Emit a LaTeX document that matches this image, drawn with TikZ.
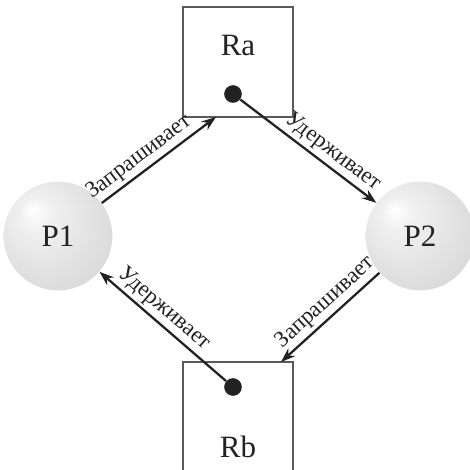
\documentclass[tikz,border=0pt]{standalone}
\usepackage{fontspec}
\setmainfont{Liberation Serif}
\usepackage{tikz}
\usetikzlibrary{arrows.meta, positioning, calc}
\definecolor{boxline}{HTML}{5A5A5A}
\definecolor{inkcolor}{HTML}{222222}
\pgfdeclareradialshading{procball}{\pgfpoint{-12bp}{12bp}}{%
    color(0bp)=(white); color(8bp)=(gray!12); color(30bp)=(gray!28); color(50bp)=(gray!50)}
\tikzset{%
    resource/.style={%
        draw=boxline, line width=0.5pt, minimum width=1.87cm, minimum height=1.87cm, inner sep=0
    },
    rname/.style={%
        text=inkcolor, font=\fontsize{15}{18}\selectfont, inner sep=0
    },
    proc/.style={%
        circle, shading=procball, minimum size=1.85cm, inner sep=0,
        text=inkcolor, font=\fontsize{15}{18}\selectfont
    },
    holder/.style={%
        circle, fill=inkcolor, minimum size=0.3cm, inner sep=0
    },
    edgelabel/.style={%
        text=inkcolor, font=\fontsize{11}{13}\selectfont, sloped, above, inner sep=1.5pt
    },
}

\begin{document}
\begin{tikzpicture}[
        x=0.017cm, y=-0.017cm,
        link/.style={-{Stealth[length=7pt, width=5pt]}, line width=1.1pt, draw=inkcolor},
    ]
    \useasboundingbox (0,0) rectangle (470,469);

    % resources
    \node[resource] (ra) at (238,62) {};
    \node[rname] (ratext) at (238,45) {Ra};
    \node[holder] (radot) at (233,94) {};

    \node[resource] (rb) at (238,417) {};
    \node[rname] (rbtext) at (238,447) {Rb};
    \node[holder] (rbdot) at (233,387) {};

    % processes
    \node[proc] (p1) at (58,236) {P1};
    \node[proc] (p2) at (420,236) {P2};

    \coordinate (rain) at (216,117);
    \coordinate (rbin) at (281,362);

    \draw[link] (p1) -- node[edgelabel, pos=0.4] {Запрашивает} (rain);
    \draw[link] (radot) -- node[edgelabel, pos=0.62] {Удерживает} (p2);
    \draw[link] (p2) -- node[edgelabel, pos=0.45] {Запрашивает} (rbin);
    \draw[link] (rbdot) -- node[edgelabel, pos=0.56] {Удерживает} (p1);

\end{tikzpicture}
\end{document}
